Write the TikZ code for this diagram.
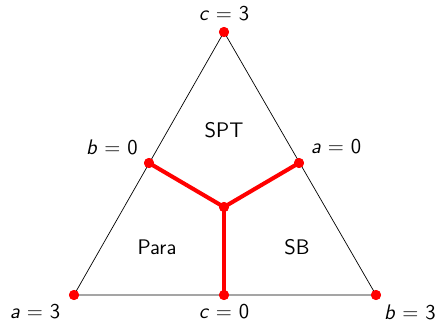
\documentclass[tikz,border=0pt]{standalone}
\usepackage{tikz}
\renewcommand{\familydefault}{\sfdefault}

\begin{document}
\begin{tikzpicture}[x=0.02cm, y=0.02cm,
    pt/.style={circle, fill=red, inner sep=0pt, minimum size=5.6pt},
    phase/.style={red, line width=2.3pt},
    lbl/.style={font=\sffamily\large}]
  \useasboundingbox (0,0) rectangle (440,322);
  % Vertices and edge midpoints
  \node[pt] (top) at (224,290) {};
  \node[pt] (bl) at (74,27) {};
  \node[pt] (br) at (376,27) {};
  \node[pt] (ml) at (149,159) {};
  \node[pt] (mr) at (299,159) {};
  \node[pt] (mb) at (224,27) {};
  \node[pt] (ctr) at (224,115) {};
  % Triangle
  \draw[thin] (top.center) -- (bl.center) -- (br.center) -- cycle;
  % Phase boundaries
  \draw[phase] (ml.center) -- (ctr.center) -- (mr.center);
  \draw[phase] (ctr.center) -- (mb.center);
  \foreach \p in {top, bl, br, ml, mr, mb, ctr}
    \fill[red] (\p) circle (2.9pt);
  % Labels
  \node[lbl] (c3) at (224,308) {\textit{c} = 3};
  \node[lbl] (a3) at (35,10) {\textit{a} = 3};
  \node[lbl] (b3) at (410,10) {\textit{b} = 3};
  \node[lbl] (c0) at (224,10) {\textit{c} = 0};
  \node[lbl] (b0) at (112,175) {\textit{b} = 0};
  \node[lbl] (a0) at (336,175) {\textit{a} = 0};
  \node[lbl] (spt) at (224,192) {SPT};
  \node[lbl] (para) at (157,75) {Para};
  \node[lbl] (sb) at (297,75) {SB};
\end{tikzpicture}
\end{document}
